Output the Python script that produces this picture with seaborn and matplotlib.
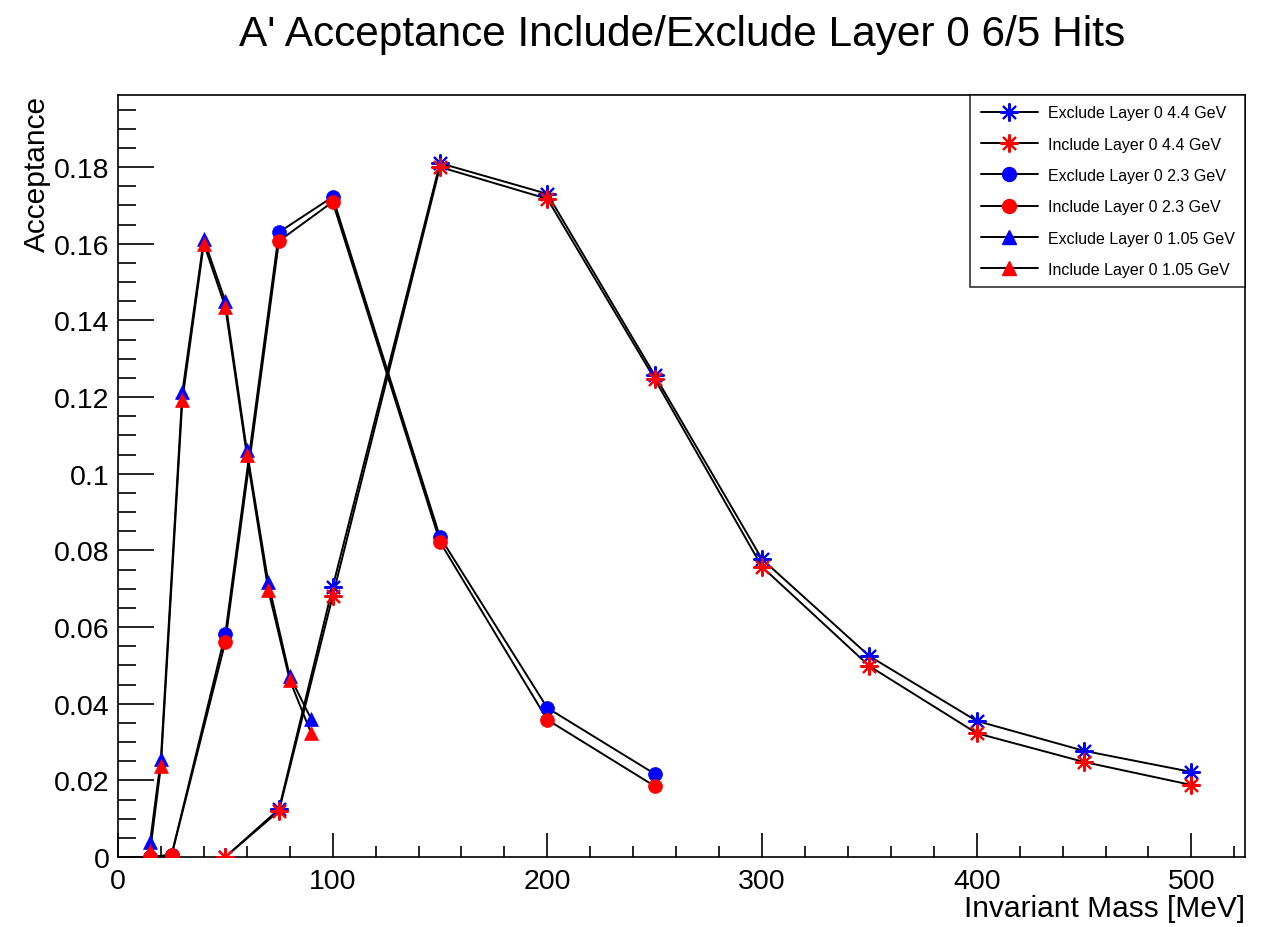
import numpy as np
import pandas as pd
import matplotlib
matplotlib.use("Agg")
import matplotlib.pyplot as plt
from matplotlib.lines import Line2D
from matplotlib.ticker import MultipleLocator, FuncFormatter
import seaborn as sns

# A' masses [MeV] for each beam energy
mass_105 = [15, 20, 30, 40, 50, 60, 70, 80, 90]
mass_23 = [15, 25, 50, 75, 100, 150, 200, 250]
mass_44 = [50, 75, 100, 150, 200, 250, 300, 350, 400, 450, 500]

# acceptance, layer 0 excluded / included
excl_105 = [0.0040, 0.0256, 0.1213, 0.1612, 0.1450, 0.1062, 0.0717, 0.0472, 0.0360]
incl_105 = [0.0015, 0.0237, 0.1192, 0.1600, 0.1435, 0.1050, 0.0697, 0.0462, 0.0323]
excl_23 = [0.0000, 0.0006, 0.0582, 0.1630, 0.1722, 0.0835, 0.0389, 0.0217]
incl_23 = [0.0000, 0.0005, 0.0561, 0.1607, 0.1709, 0.0822, 0.0358, 0.0185]
excl_44 = [0.0000, 0.0125, 0.0704, 0.1810, 0.1730, 0.1257, 0.0777, 0.0524, 0.0355, 0.0277, 0.0222]
incl_44 = [0.0000, 0.0120, 0.0680, 0.1800, 0.1717, 0.1247, 0.0757, 0.0498, 0.0323, 0.0248, 0.0188]

labels = ["Exclude Layer 0 4.4 GeV", "Include Layer 0 4.4 GeV",
          "Exclude Layer 0 2.3 GeV", "Include Layer 0 2.3 GeV",
          "Exclude Layer 0 1.05 GeV", "Include Layer 0 1.05 GeV"]

star = (8, 2, 0)
series = [
    (labels[0], mass_44, excl_44, "#0000ff", star, 13),
    (labels[1], mass_44, incl_44, "#ff0000", star, 13),
    (labels[2], mass_23, excl_23, "#0000ff", "o", 10),
    (labels[3], mass_23, incl_23, "#ff0000", "o", 10),
    (labels[4], mass_105, excl_105, "#0000ff", "^", 10),
    (labels[5], mass_105, incl_105, "#ff0000", "^", 10),
]

sns.set_theme(style="white")
plt.rcParams["font.family"] = ["Liberation Sans", "DejaVu Sans"]
plt.rcParams["text.color"] = "black"
plt.rcParams["axes.labelcolor"] = "black"

fig = plt.figure(figsize=(12.71, 9.28), dpi=100)
ax = fig.add_axes([0.0928, 0.0754, 0.8868, 0.8212])

handles = []
for name, xs, ys, col, mk, ms in series:
    df = pd.DataFrame({"mass": xs, "acc": ys})
    sns.lineplot(data=df, x="mass", y="acc", ax=ax, color="black", lw=1.4,
                 sort=False, estimator=None, zorder=2)
    if mk == star:
        ax.plot(df["mass"], df["acc"], ls="none", marker=mk, ms=ms,
                mec=col, mew=1.5, zorder=3)
        h = Line2D([0], [0], color="black", lw=1.4, marker=mk, ms=ms,
                   mec=col, mew=1.5)
    else:
        sns.scatterplot(data=df, x="mass", y="acc", ax=ax, color=col,
                        marker=mk, s=ms ** 2, edgecolor=col, linewidth=0.5,
                        zorder=3)
        h = Line2D([0], [0], color="black", lw=1.4, marker=mk, ms=ms,
                   mfc=col, mec=col)
    handles.append(h)

ax.set_xlim(0, 525)
ax.set_ylim(0, 0.1988)

ax.xaxis.set_major_locator(MultipleLocator(100))
ax.xaxis.set_minor_locator(MultipleLocator(20))
ax.yaxis.set_major_locator(MultipleLocator(0.02))
ax.yaxis.set_minor_locator(MultipleLocator(0.005))
ax.yaxis.set_major_formatter(FuncFormatter(lambda v, p: "0" if abs(v) < 1e-9 else f"{v:.2f}".rstrip("0")))

ax.tick_params(axis="both", which="both", direction="in", width=1.2,
               colors="black", top=False, right=False, bottom=True, left=True)
ax.tick_params(axis="both", which="major", labelsize=20.5)
ax.tick_params(axis="x", which="major", length=17, pad=8)
ax.tick_params(axis="x", which="minor", length=8)
ax.tick_params(axis="y", which="major", length=26, pad=6)
ax.tick_params(axis="y", which="minor", length=13)
for s in ax.spines.values():
    s.set_color("black")
    s.set_linewidth(1.2)

ax.set_xlabel("Invariant Mass [MeV]", fontsize=21.5, loc="right", labelpad=0)
ax.set_ylabel("Acceptance", fontsize=21.5, loc="top", labelpad=2)

fig.text(0.537, 0.962, "A' Acceptance Include/Exclude Layer 0 6/5 Hits",
         ha="center", va="center", fontsize=30.5)

leg = ax.legend(handles, labels, loc="upper right", fontsize=11.5,
                frameon=True, fancybox=False, borderpad=0.65, labelspacing=1.02,
                handlelength=3.6, handletextpad=0.6, borderaxespad=0.0,
                bbox_to_anchor=(1.0, 1.0))
leg.get_frame().set_edgecolor("black")
leg.get_frame().set_linewidth(1.2)

fig.savefig("out.png", dpi=100, facecolor="white")
